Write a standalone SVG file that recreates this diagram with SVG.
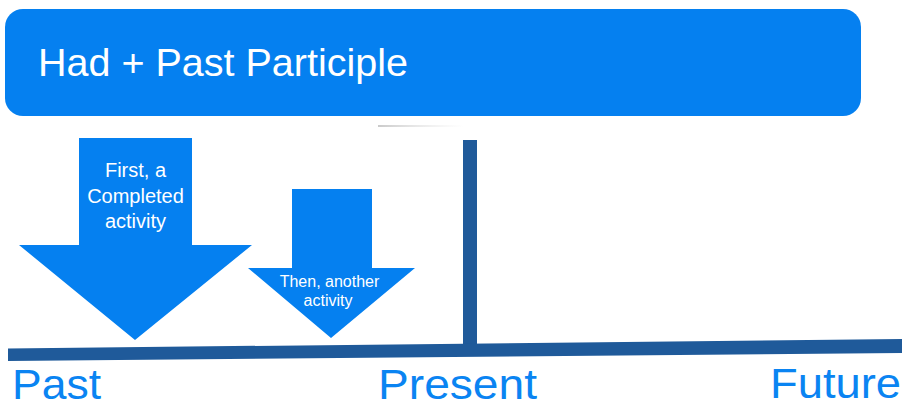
<svg xmlns="http://www.w3.org/2000/svg" width="902" height="408" viewBox="0 0 902 408">
  <defs>
    <style>
      .blue { fill: #0580F0; }
      .bar { fill: #1F5A9A; }
      .title { font-family: "Liberation Sans", Arial, sans-serif; font-size: 39.5px; fill: #ffffff; }
      .inner { font-family: "Liberation Sans", Arial, sans-serif; fill: #ffffff; text-anchor: middle; }
      .label { font-family: "Liberation Sans", Arial, sans-serif; font-size: 43px; fill: #0A84F2; }
    </style>
    <linearGradient id="smudge" x1="0" y1="0" x2="1" y2="0">
      <stop offset="0" stop-color="#c4c4c4" stop-opacity="0.9"/>
      <stop offset="1" stop-color="#e0e0e0" stop-opacity="0"/>
    </linearGradient>
  </defs>
  <rect width="902" height="408" fill="#ffffff"/>

  <g id="title-box">
    <rect class="blue" x="5" y="9" width="856" height="107" rx="18" ry="18"/>
    <text class="title" x="38" y="76">Had + Past Participle</text>
  </g>

  <rect x="378" y="125" width="86" height="2" fill="url(#smudge)"/>

  <g id="first-activity">
    <polygon class="blue" points="79,138 192,138 192,245 252,245 135,340 19,245 79,245"/>
    <text class="inner" font-size="20" x="135.5" y="177">First, a</text>
    <text class="inner" font-size="20" x="135.5" y="203">Completed</text>
    <text class="inner" font-size="20" x="135.5" y="228">activity</text>
  </g>

  <g id="second-activity">
    <polygon class="blue" points="292,189 372,189 372,268 415,268 331,338 248,268 292,268"/>
    <text class="inner" font-size="16" x="329.5" y="287">Then, another</text>
    <text class="inner" font-size="16" x="328" y="306">activity</text>
  </g>

  <g id="connectors">
    <rect class="bar" x="463" y="140" width="14" height="206"/>
    <polygon class="bar" points="8,348.5 902,339 902,353 8,361"/>
  </g>

  <g id="labels">
    <text class="label" x="12" y="399" textLength="89" lengthAdjust="spacingAndGlyphs">Past</text>
    <text class="label" x="378" y="399" textLength="159" lengthAdjust="spacingAndGlyphs">Present</text>
    <text class="label" x="770" y="398" textLength="131" lengthAdjust="spacingAndGlyphs">Future</text>
  </g>
</svg>
